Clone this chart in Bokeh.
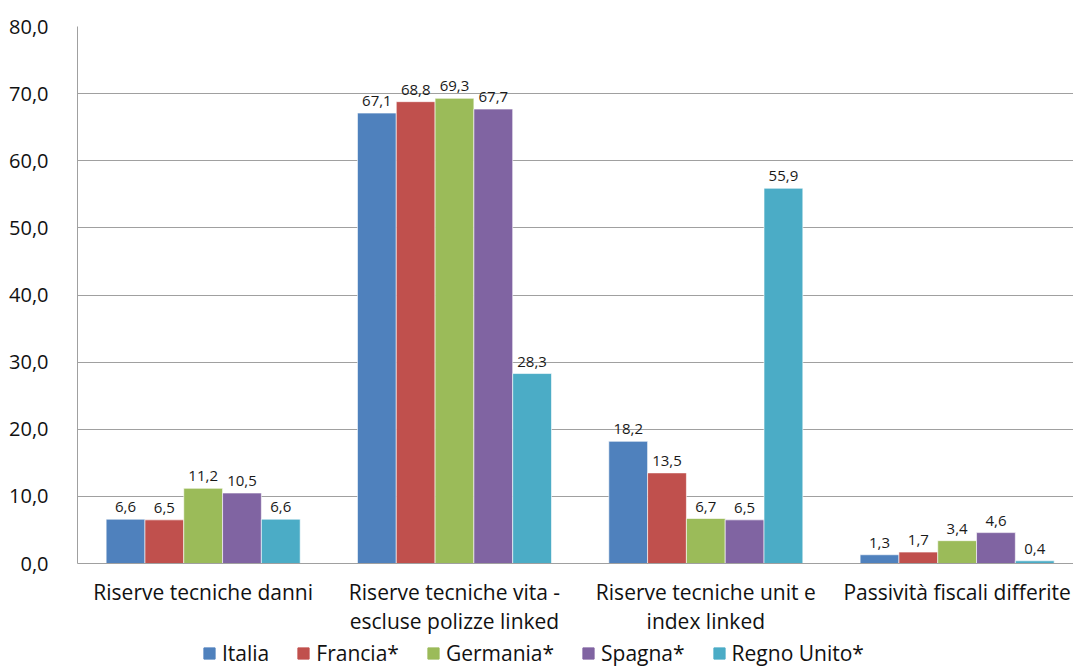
from bokeh.plotting import figure
from bokeh.layouts import column
from bokeh.models import ColumnDataSource, FixedTicker, Range1d, Legend, LegendItem
from bokeh.core.properties import value
from bokeh.embed import file_html
from bokeh.resources import INLINE

categories = ["Riserve tecniche danni",
              "Riserve tecniche vita -\nescluse polizze linked",
              "Riserve tecniche unit e\nindex linked",
              "Passività fiscali differite"]
series = ["Italia", "Francia*", "Germania*", "Spagna*", "Regno Unito*"]
italia = [6.6, 67.1, 18.2, 1.3]
francia = [6.5, 68.8, 13.5, 1.7]
germania = [11.2, 69.3, 6.7, 3.4]
spagna = [10.5, 67.7, 6.5, 4.6]
regno_unito = [6.6, 28.3, 55.9, 0.4]
y_ticks = [0, 10, 20, 30, 40, 50, 60, 70, 80]

values = [italia, francia, germania, spagna, regno_unito]
colors = ["#4F81BD", "#C0504D", "#9BBB59", "#8064A2", "#4BACC6"]
FONT = "Open Sans"

p = figure(width=1073, height=637, output_backend="svg", toolbar_location=None,
           x_range=Range1d(0, 3.963), y_range=Range1d(0, 80),
           min_border_left=77, min_border_right=0, min_border_top=26,
           min_border_bottom=72)
p.outline_line_color = None
p.background_fill_color = "white"
p.border_fill_color = "white"

bw = 0.1544
for i, (name, vals, col) in enumerate(zip(series, values, colors)):
    xs = [k + 0.5 + (i - 2) * bw for k in range(len(categories))]
    src = ColumnDataSource(dict(x=xs, top=vals,
                                lab=[f"{v:.1f}".replace(".", ",") for v in vals]))
    p.vbar(x="x", top="top", width=bw, bottom=0, source=src,
           fill_color=col, line_color="white", line_width=0.6)
    p.text(x="x", y="top", text="lab", source=src, text_align="center",
           text_baseline="bottom", y_offset=-7, text_font=value(FONT),
           text_font_size="15px", text_color="#1a1a1a")

p.xgrid.visible = False
p.ygrid.ticker = FixedTicker(ticks=y_ticks)
p.ygrid.grid_line_color = "#A0A0A0"
p.ygrid.grid_line_width = 1

p.yaxis.ticker = FixedTicker(ticks=y_ticks)
p.yaxis.major_label_overrides = {t: f"{t:.1f}".replace(".", ",") for t in y_ticks}
p.yaxis.major_label_text_font = FONT
p.yaxis.major_label_text_font_size = "20px"
p.yaxis.major_label_text_color = "#111111"
p.yaxis.major_label_standoff = 23
p.yaxis.axis_line_color = "#A0A0A0"
p.yaxis.major_tick_line_color = None
p.yaxis.minor_tick_line_color = None

p.xaxis.ticker = FixedTicker(ticks=[k + 0.5 for k in range(len(categories))])
p.xaxis.major_label_overrides = {k + 0.5: c for k, c in enumerate(categories)}
p.xaxis.major_label_text_font = FONT
p.xaxis.major_label_text_font_size = "21px"
p.xaxis.major_label_text_line_height = 1.05
p.xaxis.major_label_text_color = "#111111"
p.xaxis.major_label_standoff = 8
p.xaxis.axis_line_color = "#A0A0A0"
p.xaxis.major_tick_line_color = None
p.xaxis.minor_tick_line_color = None

# legend strip below the chart
lf = figure(width=1073, height=30, output_backend="svg", toolbar_location=None,
            x_range=Range1d(0, 1), y_range=Range1d(0, 1),
            x_axis_type=None, y_axis_type=None,
            min_border=0, min_border_left=0, min_border_right=0,
            min_border_top=0, min_border_bottom=0)
lf.grid.visible = False
lf.outline_line_color = None
items = []
for name, col in zip(series, colors):
    r = lf.vbar(x=[0.5], top=[0], bottom=[0], width=0, fill_color=col,
                line_color=col)
    items.append(LegendItem(label=name, renderers=[r]))
legend = Legend(items=items, orientation="horizontal", location=(125, 0),
                label_text_font=FONT, label_text_font_size="21px",
                label_text_color="#111111", glyph_width=14, glyph_height=14,
                label_standoff=6, spacing=27, padding=0, margin=0,
                border_line_color=None, background_fill_alpha=0)
lf.add_layout(legend, "center")

layout = column(p, lf, spacing=0)
open("out.html", "w").write(file_html(layout, INLINE))
